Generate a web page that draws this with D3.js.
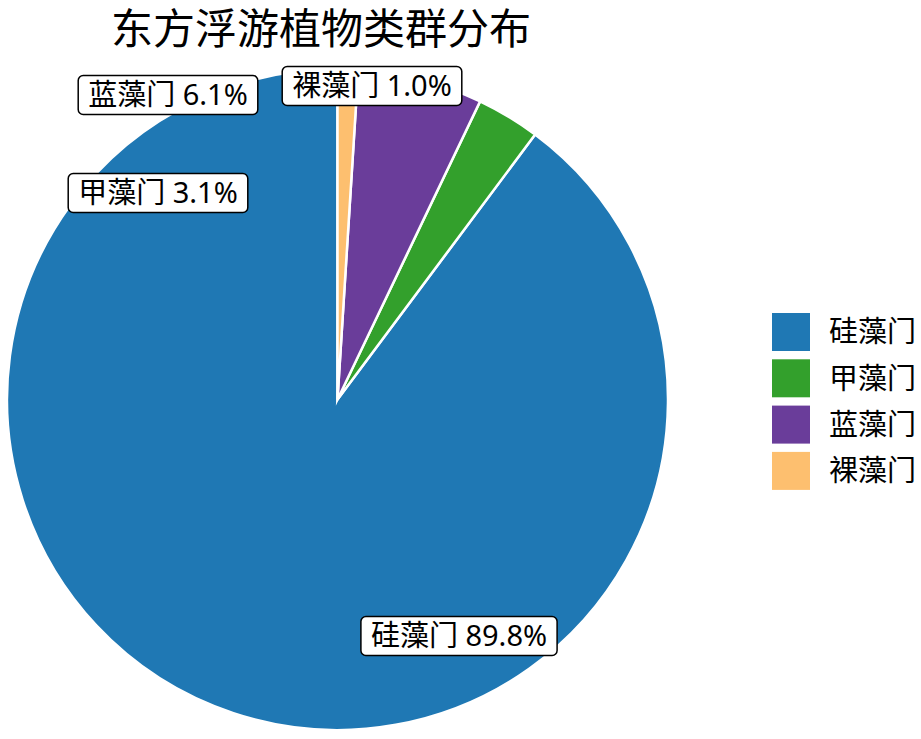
<!DOCTYPE html>
<html>
<head>
<meta charset="utf-8">
<script src="https://cdn.jsdelivr.net/npm/d3@7"></script>
<style>
  body { margin: 0; background: #fff; }
  text { font-family: "Noto Sans", "Noto Sans CJK SC", sans-serif; }
</style>
</head>
<body>
<svg width="921" height="739"></svg>
<script>
var categories = ["硅藻门", "甲藻门", "蓝藻门", "裸藻门"];
var values = [89.8, 3.1, 6.1, 1.0];
var colors = ["#1f78b4", "#33a02c", "#6a3d9a", "#fdbf6f"];
var title = "东方浮游植物类群分布";

// where the boxed labels sit (centre of each box)
var labelPos = {
  "硅藻门": [459, 636],
  "甲藻门": [158, 193],
  "蓝藻门": [168, 95],
  "裸藻门": [372, 86]
};

var svg = d3.select("svg"),
    cx = 337.5, cy = 399.5, radius = 330.5;

var color = d3.scaleOrdinal().domain(categories).range(colors);

var data = categories.map(function(c, i) { return {name: c, value: values[i]}; });

var pie = d3.pie()
    .sort(null)
    .value(function(d) { return d.value; })
    .startAngle(0)
    .endAngle(-2 * Math.PI);

var arc = d3.arc().innerRadius(0).outerRadius(radius);

var g = svg.append("g").attr("transform", "translate(" + cx + "," + cy + ")");

g.selectAll("path")
    .data(pie(data))
    .enter().append("path")
      .attr("d", arc)
      .attr("fill", function(d) { return color(d.data.name); })
      .attr("stroke", "#fff")
      .attr("stroke-width", 2.5)
      .attr("stroke-linejoin", "miter")
      .attr("stroke-miterlimit", 10);

svg.append("text")
    .attr("x", 321)
    .attr("y", 44)
    .attr("text-anchor", "middle")
    .style("font-size", "42px")
    .text(title);

var total = d3.sum(values);

var labels = svg.selectAll(".label")
  .data(data)
  .enter().append("g")
    .attr("class", "label")
    .attr("transform", function(d) { var p = labelPos[d.name]; return "translate(" + p[0] + "," + p[1] + ")"; });

labels.append("rect");

labels.append("text")
    .attr("text-anchor", "middle")
    .attr("dy", "0.36em")
    .style("font-size", "29px")
    .text(function(d) { return d.name + " " + (d.value / total * 100).toFixed(1) + "%"; });

labels.each(function() {
  var t = d3.select(this).select("text").node().getBBox();
  d3.select(this).select("rect")
      .attr("x", t.x - 10)
      .attr("y", -19.5)
      .attr("width", t.width + 20)
      .attr("height", 39)
      .attr("rx", 5)
      .attr("fill", "#fff")
      .attr("stroke", "#000")
      .attr("stroke-width", 1.5);
});

var legend = svg.append("g")
    .attr("transform", "translate(772,313)")
  .selectAll("g")
  .data(categories)
  .enter().append("g")
    .attr("transform", function(d, i) { return "translate(0," + (i * 46.3) + ")"; });

legend.append("rect")
    .attr("width", 38)
    .attr("height", 38)
    .attr("fill", color);

legend.append("text")
    .attr("x", 57)
    .attr("y", 19)
    .attr("dy", "0.36em")
    .style("font-size", "29px")
    .text(function(d) { return d; });
</script>
</body>
</html>
